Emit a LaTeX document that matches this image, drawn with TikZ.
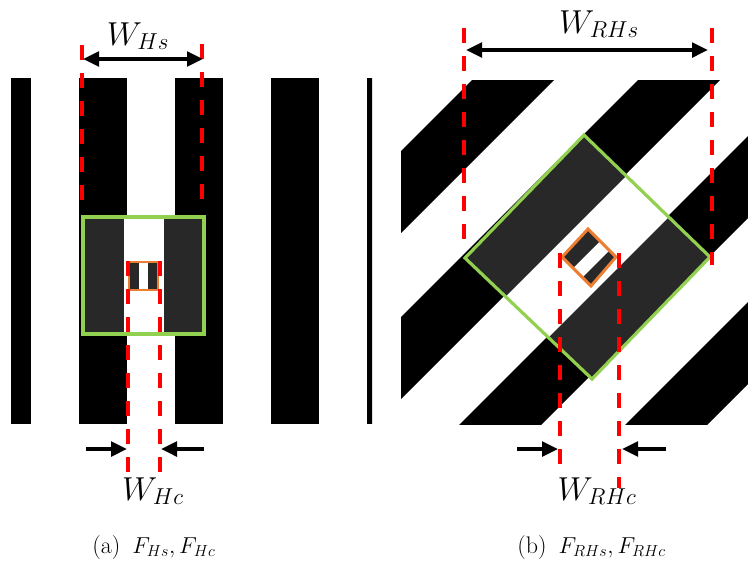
\documentclass[tikz,border=0pt]{standalone}
\usetikzlibrary{arrows.meta}
\definecolor{boxgreen}{HTML}{92D050}
\definecolor{boxorange}{HTML}{ED7D31}
\definecolor{banddark}{HTML}{282828}
\tikzset{
  cutline/.style={red, line width=2.6pt, dash pattern=on 11pt off 10pt},
  dimarrow/.style={line width=2.6pt, -{Triangle[length=12pt,width=11pt]}},
  dimboth/.style={line width=2.6pt, {Triangle[length=12pt,width=11pt]}-{Triangle[length=12pt,width=11pt]}},
  widthlabel/.style={anchor=base, font=\fontsize{25}{29}\selectfont},
  subcap/.style={anchor=base west, inner sep=0pt, font=\fontsize{18}{21}\selectfont},
}
\begin{document}
\begin{tikzpicture}[x=0.75pt, y=-0.75pt]
    \useasboundingbox (0,0) rectangle (748,572);

    % (a) vertical grating
    \begin{scope}
        \clip (11,78) rectangle (372,424);
        \foreach \x in {-17,79,175,271,367}
            \fill (\x,78) rectangle ++(48,346);
    \end{scope}
    \fill[white] (82,216) rectangle (205,335);
    \fill[banddark] (82,216) rectangle (124,335);
    \fill[banddark] (164,216) rectangle (205,335);
    \draw[boxgreen, line width=2.4pt] (83,217) rectangle (204,334);
    \fill[white] (129,262) rectangle (158,290);
    \fill[banddark] (130,262) rectangle (139,290);
    \fill[banddark] (148,262) rectangle (157,290);
    \draw[boxorange, line width=2.2pt] (129,262) rectangle (158,290);

    \coordinate (hs-l-top) at (82,45);
    \coordinate (hs-l-bot) at (82,207);
    \coordinate (hs-r-top) at (202,44);
    \coordinate (hs-r-bot) at (202,206);
    \coordinate (hc-l-top) at (128,261);
    \coordinate (hc-l-bot) at (128,475);
    \coordinate (hc-r-top) at (160,261);
    \coordinate (hc-r-bot) at (160,475);
    \draw[cutline] (hs-l-top) -- (hs-l-bot);
    \draw[cutline] (hs-r-top) -- (hs-r-bot);
    \draw[cutline] (hc-l-top) -- (hc-l-bot);
    \draw[cutline] (hc-r-top) -- (hc-r-bot);

    \coordinate (hs-a) at (83,59);
    \coordinate (hs-b) at (203,59);
    \draw[dimboth] (hs-a) -- (hs-b);
    \coordinate (hc-la) at (86,449);
    \coordinate (hc-lb) at (127,449);
    \coordinate (hc-ra) at (204,449);
    \coordinate (hc-rb) at (161,449);
    \draw[dimarrow] (hc-la) -- (hc-lb);
    \draw[dimarrow] (hc-ra) -- (hc-rb);

    \node[widthlabel] (whs) at (138,45) {$W_{Hs}$};
    \node[widthlabel] (whc) at (153,500) {$W_{Hc}$};
    \node[subcap] (capa) at (92,553) {(a)\enspace$F_{Hs},F_{Hc}$};

    % (b) rotated grating
    \begin{scope}
        \clip (401,80) rectangle (748,424);
        \foreach \c in {386,552,...,1216}
            \fill (\c,0) -- ++(82,0) -- ++(-600,600) -- ++(-82,0) -- cycle;
    \end{scope}
    \coordinate (gt) at (584,135);
    \coordinate (gr) at (710,257);
    \coordinate (gb) at (592,379);
    \coordinate (gl) at (465,258);
    \fill[white] (gt) -- (gr) -- (gb) -- (gl) -- cycle;
    \begin{scope}
        \clip (gt) -- (gr) -- (gb) -- (gl) -- cycle;
        \foreach \c in {718,886}
            \fill[banddark] (\c,0) -- ++(84,0) -- ++(-600,600) -- ++(-84,0) -- cycle;
    \end{scope}
    \draw[boxgreen, line width=2.4pt] (gt) -- (gr) -- (gb) -- (gl) -- cycle;

    \coordinate (ot) at (588,229);
    \coordinate (or) at (616,257);
    \coordinate (ob) at (591,286);
    \coordinate (ol) at (562,257);
    \fill[white] (ot) -- (or) -- (ob) -- (ol) -- cycle;
    \begin{scope}
        \clip (ot) -- (or) -- (ob) -- (ol) -- cycle;
        \foreach \c/\w in {800/41,860/40}
            \fill[banddark] (\c,0) -- ++(\w,0) -- ++(-600,600) -- ++(-\w,0) -- cycle;
    \end{scope}
    \draw[boxorange, line width=2.2pt] (ot) -- (or) -- (ob) -- (ol) -- cycle;

    \coordinate (rhs-l-top) at (464,28);
    \coordinate (rhs-l-bot) at (464,243);
    \coordinate (rhs-r-top) at (712,28);
    \coordinate (rhs-r-bot) at (712,265);
    \coordinate (rhc-l-top) at (560,253);
    \coordinate (rhc-l-bot) at (560,467);
    \coordinate (rhc-r-top) at (619,253);
    \coordinate (rhc-r-bot) at (619,488);
    \draw[cutline] (rhs-l-top) -- (rhs-l-bot);
    \draw[cutline] (rhs-r-top) -- (rhs-r-bot);
    \draw[cutline] (rhc-l-top) -- (rhc-l-bot);
    \draw[cutline] (rhc-r-top) -- (rhc-r-bot);

    \coordinate (rhs-a) at (466,50);
    \coordinate (rhs-b) at (708,50);
    \draw[dimboth] (rhs-a) -- (rhs-b);
    \coordinate (rhc-la) at (517,449);
    \coordinate (rhc-lb) at (558,449);
    \coordinate (rhc-ra) at (666,449);
    \coordinate (rhc-rb) at (622,449);
    \draw[dimarrow] (rhc-la) -- (rhc-lb);
    \draw[dimarrow] (rhc-ra) -- (rhc-rb);

    \node[widthlabel] (wrhs) at (599,33) {$W_{RHs}$};
    \node[widthlabel] (wrhc) at (597,500) {$W_{RHc}$};
    \node[subcap] (capb) at (517,553) {(b)\enspace$F_{RHs},F_{RHc}$};
\end{tikzpicture}
\end{document}
